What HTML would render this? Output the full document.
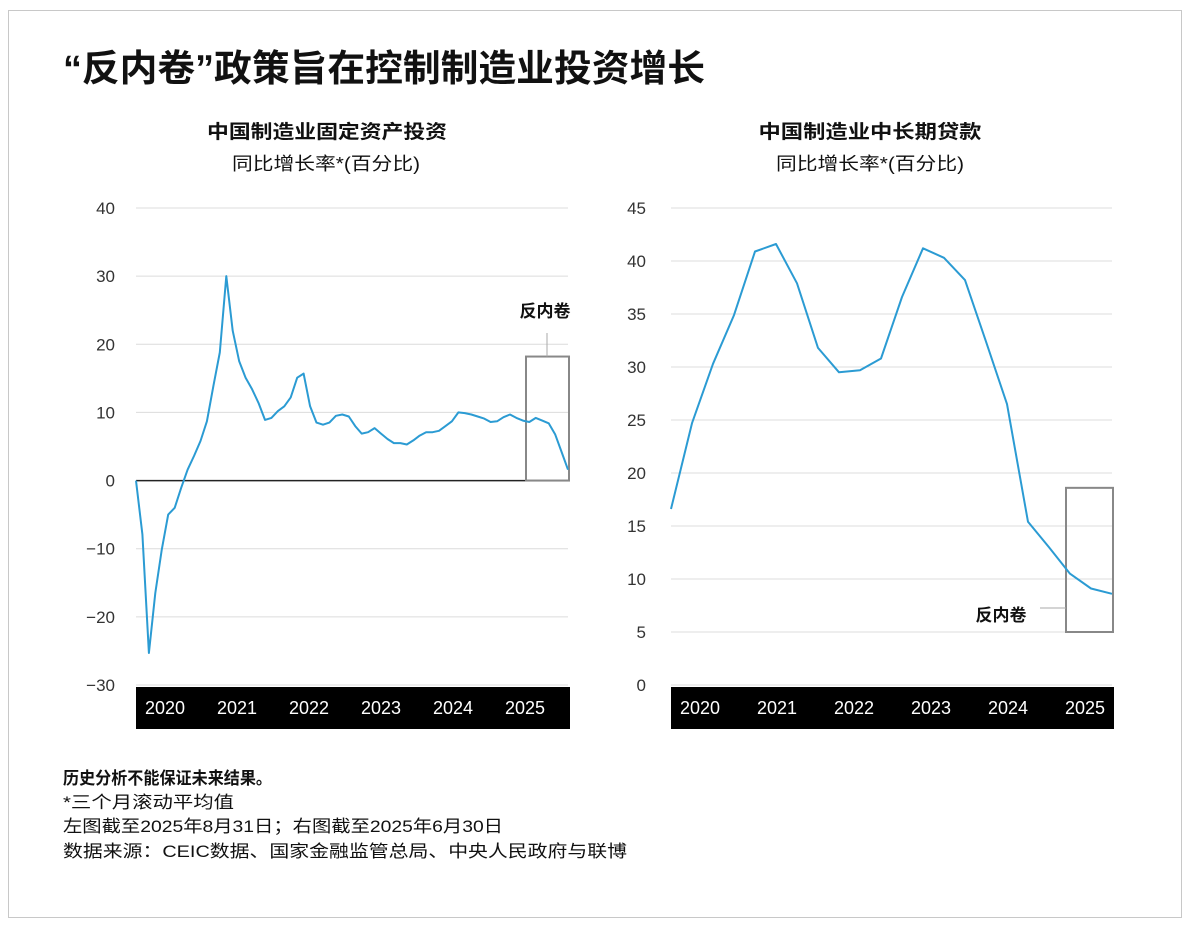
<!DOCTYPE html>
<html><head><meta charset="utf-8">
<style>
body{margin:0;background:#fff;width:1193px;height:932px;overflow:hidden;font-family:"Liberation Sans","Noto Sans CJK SC",sans-serif;}
svg text{font-family:"Liberation Sans","Noto Sans CJK SC",sans-serif;}
</style></head>
<body>
<svg width="1193" height="932" viewBox="0 0 1193 932">
<rect x="8.5" y="10.5" width="1173" height="907" fill="#fff" stroke="#c8c8c8"/>
<text x="63" y="81" font-size="37" font-weight="bold" fill="#111" textLength="642" lengthAdjust="spacingAndGlyphs">“反内卷”政策旨在控制制造业投资增长</text>
<text x="327" y="138" font-size="19" font-weight="bold" text-anchor="middle" fill="#111" textLength="240" lengthAdjust="spacingAndGlyphs">中国制造业固定资产投资</text>
<text x="326" y="170" font-size="18" text-anchor="middle" fill="#111" textLength="188" lengthAdjust="spacingAndGlyphs">同比增长率*(百分比)</text>
<text x="870" y="138" font-size="19" font-weight="bold" text-anchor="middle" fill="#111" textLength="223" lengthAdjust="spacingAndGlyphs">中国制造业中长期贷款</text>
<text x="870" y="170" font-size="18" text-anchor="middle" fill="#111" textLength="188" lengthAdjust="spacingAndGlyphs">同比增长率*(百分比)</text>
<g id="left"></g>
<g id="right"></g>
<text x="63" y="784" font-size="17" font-weight="bold" fill="#111" textLength="209" lengthAdjust="spacingAndGlyphs">历史分析不能保证未来结果。</text>
<text x="63" y="808" font-size="17" fill="#111" textLength="171" lengthAdjust="spacingAndGlyphs">*三个月滚动平均值</text>
<text x="63" y="832" font-size="17" fill="#111" textLength="440" lengthAdjust="spacingAndGlyphs">左图截至2025年8月31日；右图截至2025年6月30日</text>
<text x="63" y="857" font-size="17" fill="#111" textLength="564" lengthAdjust="spacingAndGlyphs">数据来源：CEIC数据、国家金融监管总局、中央人民政府与联博</text>
</svg>
<script>
const NS="http://www.w3.org/2000/svg";
const years=["2020","2021","2022","2023","2024","2025"];
const leftTicks=[40,30,20,10,0,-10,-20,-30];
const leftValues=[0,-7.9,-25.3,-16.5,-10.1,-5,-4,-1.1,1.6,3.6,5.8,8.7,13.9,18.8,30,22,17.5,15.1,13.4,11.4,8.9,9.2,10.2,10.9,12.2,15.1,15.7,10.9,8.5,8.2,8.5,9.5,9.7,9.4,8,6.9,7.1,7.7,6.9,6.1,5.5,5.5,5.3,5.9,6.6,7.1,7.1,7.3,8,8.7,10,9.9,9.7,9.4,9.1,8.6,8.7,9.3,9.7,9.2,8.8,8.6,9.2,8.8,8.4,6.8,4.2,1.6];
const rightTicks=[45,40,35,30,25,20,15,10,5,0];
const rightValues=[16.6,24.7,30.3,34.9,40.9,41.6,37.9,31.8,29.5,29.7,30.8,36.6,41.2,40.3,38.2,32.4,26.5,15.4,13.0,10.5,9.1,8.6];
const leftBox=[0,18.2];const rightBox=[5,18.6];

function el(p,tag,attrs){const e=document.createElementNS(NS,tag);for(const k in attrs)e.setAttribute(k,attrs[k]);p.appendChild(e);return e;}

function draw(g,o){
  const y=v=>o.y0+(o.top-v)*(o.y1-o.y0)/(o.top-o.bot);
  const x=i=>o.x0+i*(o.x1-o.x0)/(o.vals.length-1);
  o.ticks.forEach(t=>{
    const l=el(g,'line',{x1:o.x0,x2:o.gx1,y1:y(t),y2:y(t),stroke:'#dcdcdc','stroke-width':1});
    
    
    const tx=el(g,'text',{x:o.lx,y:y(t)+6,'font-size':17,'text-anchor':'end',fill:'#333'});
    tx.textContent=(t<0?'\u2212'+(-t):t);
    
    
  });
  if(o.zero){const z=el(g,'line',{x1:o.x0,x2:o.x1,y1:y(0),y2:y(0),stroke:'#222','stroke-width':1.5});
    
    }
  const band=el(g,'rect',{x:o.x0,y:o.bandY,width:o.gx1-o.x0+2,height:42,fill:'#000'});
  
  
  years.forEach((yr,k)=>{const t=el(g,'text',{x:o.yx0+o.ys*k,y:o.bandY+27,'font-size':18,'text-anchor':'middle',fill:'#fff'});t.textContent=yr;
    
    });
  const b=el(g,'rect',{x:o.bx0,y:y(o.box[1]),width:o.bx1-o.bx0,height:y(o.box[0])-y(o.box[1]),fill:'none',stroke:'#888','stroke-width':2});
  
  
  const d=o.vals.map((v,i)=>(i?'L':'M')+x(i).toFixed(1)+','+y(v).toFixed(1)).join('');
  const p=el(g,'path',{d:d,fill:'none',stroke:'#2b9bd3','stroke-width':2,'stroke-linejoin':'round'});
  
  
  return {x,y};
}
const L=draw(document.getElementById('left'),{x0:136,x1:568,gx1:568,y0:208,y1:685,top:40,bot:-30,ticks:leftTicks,vals:leftValues,lx:115,zero:true,bandY:687,yx0:165,ys:72,bx0:526,bx1:569,box:leftBox});
const R=draw(document.getElementById('right'),{x0:671,x1:1112,gx1:1112,y0:208,y1:685,top:45,bot:0,ticks:rightTicks,vals:rightValues,lx:646,zero:false,bandY:687,yx0:700,ys:77,bx0:1066,bx1:1113,box:rightBox});
const lg=document.getElementById('left'),rg=document.getElementById('right');
let c=el(lg,'line',{x1:547,x2:547,y1:333,y2:L.y(leftBox[1]),stroke:'#aaa','stroke-width':1});


let t=el(lg,'text',{x:545,y:317,'font-size':17,'font-weight':'bold','text-anchor':'middle',fill:'#111'});t.textContent='反内卷';


c=el(rg,'line',{x1:1040,x2:1066,y1:608,y2:608,stroke:'#aaa','stroke-width':1});


t=el(rg,'text',{x:1001,y:621,'font-size':17,'font-weight':'bold','text-anchor':'middle',fill:'#111'});t.textContent='反内卷';


</script>
</body></html>
